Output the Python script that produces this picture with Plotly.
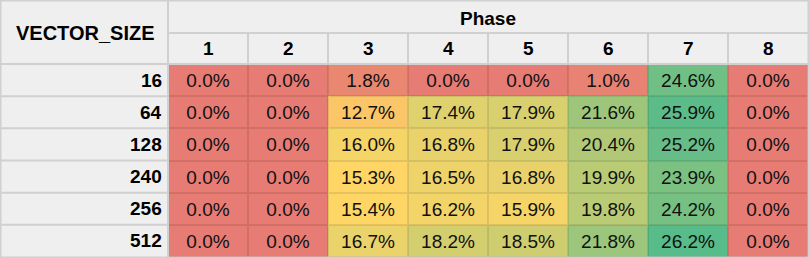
import plotly.graph_objects as go

phases = ["1", "2", "3", "4", "5", "6", "7", "8"]
vector_sizes = ["16", "64", "128", "240", "256", "512"]
values = [
    [0.0, 0.0, 1.8, 0.0, 0.0, 1.0, 24.6, 0.0],
    [0.0, 0.0, 12.7, 17.4, 17.9, 21.6, 25.9, 0.0],
    [0.0, 0.0, 16.0, 16.8, 17.9, 20.4, 25.2, 0.0],
    [0.0, 0.0, 15.3, 16.5, 16.8, 19.9, 23.9, 0.0],
    [0.0, 0.0, 15.4, 16.2, 15.9, 19.8, 24.2, 0.0],
    [0.0, 0.0, 16.7, 18.2, 18.5, 21.8, 26.2, 0.0],
]

W, H = 809, 258
ML, MR, MT, MB = 168, 1, 64, 1
PW, PH = W - ML - MR, H - MT - MB

xi = list(range(len(phases)))
yi = list(range(len(vector_sizes)))

flat = sorted(v for r in values for v in r)
n = len(flat)
median = (flat[n // 2 - 1] + flat[n // 2]) / 2
zmin, zmax = min(flat), max(flat)
mid = (median - zmin) / (zmax - zmin)

scale = [[0, "#e67c73"], [mid, "#ffd666"], [1, "#57bb8a"]]
scale_dark = [[0, "#d16f67"], [mid, "#e8c25c"], [1, "#4ea97c"]]

FONT = "Liberation Sans, Arial, sans-serif"

fig = go.Figure()
fig.add_trace(go.Heatmap(
    z=values, x=xi, y=yi, colorscale=scale_dark,
    zmin=zmin, zmax=zmax, showscale=False, hoverinfo="skip",
))
fig.add_trace(go.Heatmap(
    z=values, x=xi, y=yi, colorscale=scale,
    zmin=zmin, zmax=zmax, showscale=False, xgap=2, ygap=2,
    texttemplate="%{z:.1f}%",
    textfont=dict(family=FONT, size=19, color="#111111"),
))

grid = "#d0d0d0"
shapes = []
hdr = MT / PH
shapes.append(dict(type="rect", xref="paper", yref="paper",
                   x0=-ML / PW + 0.5 / PW, x1=1 + 0.5 / PW,
                   y0=-0.5 / PH, y1=1 + hdr - 0.5 / PH,
                   line=dict(color=grid, width=2)))
shapes.append(dict(type="line", xref="paper", yref="paper",
                   x0=0, x1=0, y0=0, y1=1 + hdr,
                   line=dict(color=grid, width=2)))
shapes.append(dict(type="line", xref="paper", yref="paper",
                   x0=0, x1=1, y0=1 + 31 / PH, y1=1 + 31 / PH,
                   line=dict(color=grid, width=2)))
shapes.append(dict(type="line", xref="paper", yref="paper",
                   x0=-ML / PW, x1=1, y0=1, y1=1,
                   line=dict(color=grid, width=2)))
for i in xi[1:]:
    shapes.append(dict(type="line", xref="x", yref="paper",
                       x0=i - 0.5, x1=i - 0.5, y0=1, y1=1 + 31 / PH,
                       line=dict(color=grid, width=2)))
for j in yi[1:]:
    shapes.append(dict(type="line", xref="paper", yref="y",
                       x0=-ML / PW, x1=0, y0=j - 0.5, y1=j - 0.5,
                       line=dict(color=grid, width=2)))

annotations = []
for j, vs in zip(yi, vector_sizes):
    annotations.append(dict(text=f"<b>{vs}</b>", xref="paper", yref="y",
                            x=-4 / PW, y=j, xanchor="right", yanchor="middle",
                            showarrow=False,
                            font=dict(family=FONT, size=19, color="#000")))
for i, p in zip(xi, phases):
    annotations.append(dict(text=f"<b>{p}</b>", xref="x", yref="paper",
                            x=i, y=1 + 15 / PH, xanchor="center", yanchor="middle",
                            showarrow=False,
                            font=dict(family=FONT, size=19, color="#000")))
annotations.append(dict(text="<b>Phase</b>", xref="paper", yref="paper",
                        x=0.5, y=1 + 46 / PH, xanchor="center", yanchor="middle",
                        showarrow=False,
                        font=dict(family=FONT, size=19, color="#000")))
annotations.append(dict(text="<b>VECTOR_SIZE</b>", xref="paper", yref="paper",
                        x=-(ML - 85) / PW, y=1 + 31 / PH, xanchor="center",
                        yanchor="middle", showarrow=False,
                        font=dict(family=FONT, size=20, color="#000")))

fig.update_layout(
    width=W, height=H,
    margin=dict(l=ML, r=MR, t=MT, b=MB, pad=0),
    paper_bgcolor="#efefef", plot_bgcolor="#efefef",
    xaxis=dict(visible=False, showgrid=False, zeroline=False,
               range=[-0.5, len(phases) - 0.5], autorange=False),
    yaxis=dict(visible=False, showgrid=False, zeroline=False,
               range=[len(vector_sizes) - 0.5, -0.5], autorange=False),
    shapes=shapes, annotations=annotations,
)

fig.write_html("out.html", config={"displayModeBar": False},
               post_script="document.body.style.margin='0';")
